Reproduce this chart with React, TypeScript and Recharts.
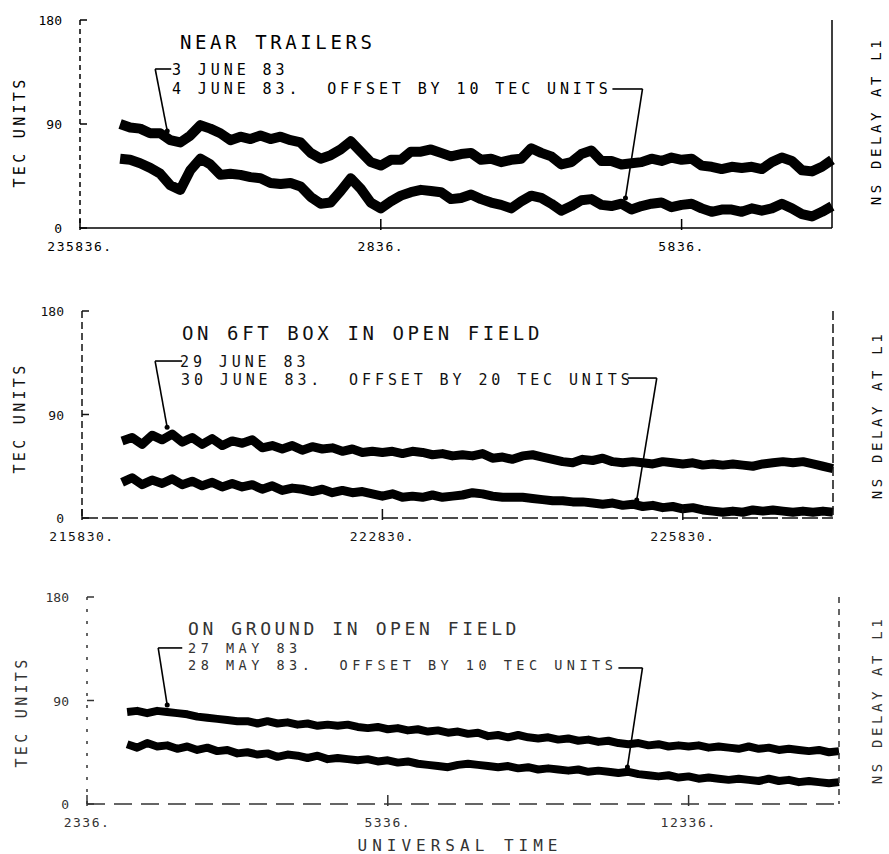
import React from "react";
import { LineChart, Line, XAxis, YAxis, ReferenceLine, ReferenceDot } from "recharts";

// one sample per minute, first sample 4 min after the left tick
const START_MIN = 4;
const X_TICKS = [0, 30, 60];
const TEC_TICKS = [0, 90, 180];
const NS_TICKS = [0, 50, 100];

// ---- near trailers ----
const june3 = [
  90, 87, 86, 82, 82, 76, 74, 80, 89, 86, 82, 76,
  79, 77, 80, 77, 79, 76, 74, 65, 60, 63, 68, 75,
  66, 57, 54, 59, 59, 66, 66, 68, 65, 62, 64, 65,
  59, 60, 57, 59, 60, 69, 65, 62, 55, 57, 64, 67,
  58, 58, 55, 56, 57, 60, 58, 61, 59, 60, 54, 53,
  51, 53, 52, 53, 51, 57, 61, 58, 50, 49, 53, 59,
];
const june4 = [
  60, 59, 56, 52, 47, 37, 33, 50, 60, 55, 46, 47,
  46, 44, 43, 39, 38, 39, 36, 27, 21, 22, 32, 43,
  34, 22, 17, 23, 28, 31, 33, 32, 31, 25, 26, 29,
  25, 22, 20, 17, 23, 28, 26, 21, 15, 19, 24, 25,
  20, 19, 21, 16, 19, 21, 22, 18, 20, 21, 17, 14,
  16, 16, 14, 17, 15, 17, 21, 17, 12, 10, 14, 19,
];
const trailerTimes = ["235836.", "2836.", "5836."];

// ---- on 6ft box ----
const june29 = [
  67, 70, 64, 72, 68, 73, 66, 70, 64, 69, 63, 67,
  65, 68, 61, 63, 60, 63, 59, 62, 60, 61, 58, 60,
  57, 58, 57, 58, 56, 58, 57, 55, 56, 54, 55, 54,
  56, 52, 53, 51, 54, 55, 53, 51, 49, 48, 51, 50,
  52, 49, 48, 49, 48, 47, 49, 48, 47, 48, 46, 47,
  46, 47, 46, 45, 47, 48, 49, 48, 49, 47, 45, 43,
];
const june30 = [
  31, 35, 29, 33, 30, 34, 29, 32, 28, 31, 27, 30,
  27, 29, 25, 28, 24, 26, 25, 23, 25, 22, 24, 22,
  23, 21, 19, 21, 18, 19, 18, 20, 18, 19, 20, 22,
  21, 19, 18, 18, 18, 17, 16, 15, 15, 14, 14, 13,
  12, 13, 11, 12, 10, 11, 9, 10, 8, 9, 7, 6,
  5, 6, 5, 7, 6, 7, 6, 5, 6, 5, 6, 5,
];
const boxTimes = ["215830.", "222830.", "225830."];

// ---- on ground ----
const may27 = [
  80, 81, 79, 81, 80, 79, 78, 76, 75, 74, 73, 72,
  72, 70, 72, 70, 71, 69, 70, 68, 69, 68, 69, 67,
  66, 67, 65, 66, 64, 65, 63, 64, 62, 63, 61, 62,
  59, 60, 58, 60, 58, 57, 58, 56, 57, 55, 56, 54,
  55, 53, 52, 53, 51, 52, 50, 51, 50, 51, 49, 50,
  49, 48, 50, 48, 49, 47, 48, 47, 46, 47, 45, 46,
];
const may28 = [
  52, 49, 53, 50, 51, 48, 50, 47, 49, 46, 47, 44,
  45, 43, 44, 41, 43, 42, 40, 42, 39, 40, 39, 38,
  39, 37, 38, 36, 37, 35, 34, 33, 32, 34, 35, 34,
  33, 32, 33, 31, 32, 30, 31, 30, 29, 30, 28, 29,
  28, 27, 28, 26, 25, 24, 25, 23, 24, 22, 23, 22,
  21, 22, 21, 20, 22, 20, 21, 19, 20, 19, 18, 19,
];
const groundTimes = ["2336.", "5336.", "12336."];

const FONT = "'DejaVu Sans Mono', 'Liberation Mono', monospace";

type Pt = { x: number; y: number };
type Leader = { a: Pt; b: Pt; tip: Pt };

const toRows = (upper: number[], lower: number[]) =>
  upper.map((v, i) => ({ t: START_MIN + i, upper: v, lower: lower[i] }));

interface PanelProps {
  top: number;
  height: number;
  upper: number[];
  lower: number[];
  times: string[];
  margin: { top: number; right: number; bottom: number; left: number };
  ink: string;
  width: number;
  dash: { left: string; bottom: string; right: string };
  title: string;
  titleAt: [number, number];
  titleSize: number;
  line1: string;
  line1At: [number, number];
  line2: string;
  line2At: [number, number];
  lineSize: number;
  lineSpacing: number;
  leaders: Leader[];
  tecTitle: [number, number];
  nsTitle: [number, number];
  children?: React.ReactNode;
}

const Panel = (p: PanelProps) => {
  const data = toRows(p.upper, p.lower);

  const leftTick = ({ x, y, payload }: any) => (
    <g>
      <line x1={x} x2={x + 7} y1={y} y2={y} stroke={p.ink} strokeWidth={1.5} />
      <text x={x - 18} y={y} dy={5} textAnchor="end" fontSize={13} fill={p.ink} fontFamily={FONT}>
        {payload.value}
      </text>
    </g>
  );
  const rightTick = ({ x, y, payload }: any) => (
    <g>
      <line x1={x} x2={x - 7} y1={y} y2={y} stroke={p.ink} strokeWidth={1.5} />
      <text x={x + 11} y={y} dy={5} textAnchor="start" fontSize={13} fill={p.ink} fontFamily={FONT}>
        {payload.value}
      </text>
    </g>
  );
  const bottomTick = ({ x, y, payload }: any) => (
    <g>
      <line x1={x} x2={x} y1={y - 9} y2={y + 2} stroke={p.ink} strokeWidth={1.5} />
      <text x={x} y={y + 23} textAnchor="middle" fontSize={13} letterSpacing={1.5} fill={p.ink} fontFamily={FONT}>
        {p.times[X_TICKS.indexOf(payload.value)]}
      </text>
    </g>
  );

  return (
    <div style={{ position: "absolute", left: 0, top: p.top, width: 889, height: p.height }}>
      <LineChart width={889} height={p.height} data={data} margin={p.margin}>
        <XAxis
          dataKey="t"
          type="number"
          domain={[0, 75]}
          ticks={X_TICKS}
          interval={0}
          height={30}
          tickSize={0}
          tickMargin={0}
          tickLine={false}
          axisLine={{ stroke: p.ink, strokeWidth: 1.5, strokeDasharray: p.dash.bottom }}
          tick={bottomTick}
        />
        <YAxis
          yAxisId="tec"
          domain={[0, 180]}
          ticks={TEC_TICKS}
          interval={0}
          width={40}
          tickSize={0}
          tickMargin={0}
          tickLine={false}
          axisLine={{ stroke: p.ink, strokeWidth: 1.5, strokeDasharray: p.dash.left }}
          tick={leftTick}
        />
        <YAxis
          yAxisId="ns"
          orientation="right"
          domain={[0, 100]}
          ticks={NS_TICKS}
          interval={0}
          width={40}
          tickSize={0}
          tickMargin={0}
          tickLine={false}
          axisLine={{ stroke: p.ink, strokeWidth: 1.5, strokeDasharray: p.dash.right }}
          tick={rightTick}
        />
        <Line
          yAxisId="tec"
          type="linear"
          dataKey="upper"
          stroke="#000"
          strokeWidth={p.width}
          strokeLinejoin="round"
          dot={false}
          isAnimationActive={false}
        />
        <Line
          yAxisId="tec"
          type="linear"
          dataKey="lower"
          stroke="#000"
          strokeWidth={p.width}
          strokeLinejoin="round"
          dot={false}
          isAnimationActive={false}
        />
        {p.leaders.map((l, i) => (
          <ReferenceLine key={"h" + i} yAxisId="tec" segment={[l.a, l.b]} stroke="#000" strokeWidth={1.6} />
        ))}
        {p.leaders.map((l, i) => (
          <ReferenceLine key={"d" + i} yAxisId="tec" segment={[l.b, l.tip]} stroke="#000" strokeWidth={1.6} />
        ))}
        {p.leaders.map((l, i) => (
          <ReferenceDot key={"t" + i} yAxisId="tec" x={l.tip.x} y={l.tip.y} r={2.5} fill="#000" stroke="none" />
        ))}
      </LineChart>

      {/* annotations */}
      <svg
        width={889}
        height={p.height}
        style={{ position: "absolute", left: 0, top: 0, pointerEvents: "none" }}
      >
        <g fontFamily={FONT} fill={p.ink}>
          <text x={p.titleAt[0]} y={p.titleAt[1]} fontSize={p.titleSize} letterSpacing={3.6}>
            {p.title}
          </text>
          <text x={p.line1At[0]} y={p.line1At[1]} fontSize={p.lineSize} letterSpacing={p.lineSpacing} xmlSpace="preserve">
            {p.line1}
          </text>
          <text x={p.line2At[0]} y={p.line2At[1]} fontSize={p.lineSize} letterSpacing={p.lineSpacing} xmlSpace="preserve">
            {p.line2}
          </text>
          <text
            transform={`translate(${p.tecTitle[0]},${p.tecTitle[1]}) rotate(-90)`}
            textAnchor="middle"
            dy={5}
            fontSize={15}
            letterSpacing={3.3}
          >
            TEC UNITS
          </text>
          <text
            transform={`translate(${p.nsTitle[0]},${p.nsTitle[1]}) rotate(-90)`}
            textAnchor="middle"
            dy={5}
            fontSize={14}
            letterSpacing={3.6}
          >
            NS DELAY AT L1
          </text>
          {p.children}
        </g>
      </svg>
    </div>
  );
};

export default function App() {
  return (
    <div
      style={{
        position: "absolute",
        left: 0,
        top: 0,
        width: 889,
        height: 854,
        background: "#fff",
        overflow: "hidden",
      }}
    >
      {/*========= Near trailers =========*/}
      <Panel
        top={0}
        height={285}
        upper={june3}
        lower={june4}
        times={trailerTimes}
        margin={{ top: 20, right: 17, bottom: 27, left: 40 }}
        ink="#000"
        width={10}
        dash={{ left: "5 4", bottom: "none", right: "none" }}
        title="NEAR TRAILERS"
        titleAt={[180, 49]}
        titleSize={19}
        line1="3 JUNE 83"
        line1At={[172, 75]}
        line2="4 JUNE 83.  OFFSET BY 10 TEC UNITS"
        line2At={[172, 94]}
        lineSize={15}
        lineSpacing={3.9}
        leaders={[
          { a: { x: 9.1, y: 137.6 }, b: { x: 7.5, y: 137.6 }, tip: { x: 8.7, y: 84 } },
          { a: { x: 53.1, y: 120.3 }, b: { x: 56.1, y: 120.3 }, tip: { x: 54.4, y: 26 } },
        ]}
        tecTitle={[20, 132]}
        nsTitle={[876, 121]}
      />

      {/*========= On 6ft box =========*/}
      <Panel
        top={285}
        height={285}
        upper={june29}
        lower={june30}
        times={boxTimes}
        margin={{ top: 26, right: 16, bottom: 22, left: 42 }}
        ink="#111"
        width={9}
        dash={{ left: "7 4", bottom: "16 4", right: "9 4" }}
        title="ON 6FT BOX IN OPEN FIELD"
        titleAt={[182, 55]}
        titleSize={19}
        line1="29 JUNE 83"
        line1At={[180, 82]}
        line2="30 JUNE 83.  OFFSET BY 20 TEC UNITS"
        line2At={[181, 100]}
        lineSize={15}
        lineSpacing={3.9}
        leaders={[
          { a: { x: 10.0, y: 136.5 }, b: { x: 7.3, y: 136.5 }, tip: { x: 8.5, y: 79 } },
          { a: { x: 54.5, y: 121.7 }, b: { x: 57.4, y: 121.7 }, tip: { x: 55.4, y: 15.7 } },
        ]}
        tecTitle={[20, 133]}
        nsTitle={[877, 130]}
      />

      {/*========= On ground =========*/}
      <Panel
        top={570}
        height={284}
        upper={may27}
        lower={may28}
        times={groundTimes}
        margin={{ top: 27, right: 10, bottom: 20, left: 47 }}
        ink="#333"
        width={8}
        dash={{ left: "3 9", bottom: "18 9", right: "6 6" }}
        title="ON GROUND IN OPEN FIELD"
        titleAt={[188, 65]}
        titleSize={18}
        line1="27 MAY 83"
        line1At={[188, 83]}
        line2="28 MAY 83.  OFFSET BY 10 TEC UNITS"
        line2At={[188, 100]}
        lineSize={13.5}
        lineSpacing={4.5}
        leaders={[
          { a: { x: 9.5, y: 135.7 }, b: { x: 7.1, y: 135.7 }, tip: { x: 8.0, y: 86 } },
          { a: { x: 53.0, y: 118.3 }, b: { x: 55.4, y: 118.3 }, tip: { x: 53.9, y: 32.2 } },
        ]}
        tecTitle={[22, 142]}
        nsTitle={[877, 130]}
      >
        <text x={460} y={281} textAnchor="middle" fontSize={16} letterSpacing={5}>
          UNIVERSAL TIME
        </text>
      </Panel>
    </div>
  );
}
